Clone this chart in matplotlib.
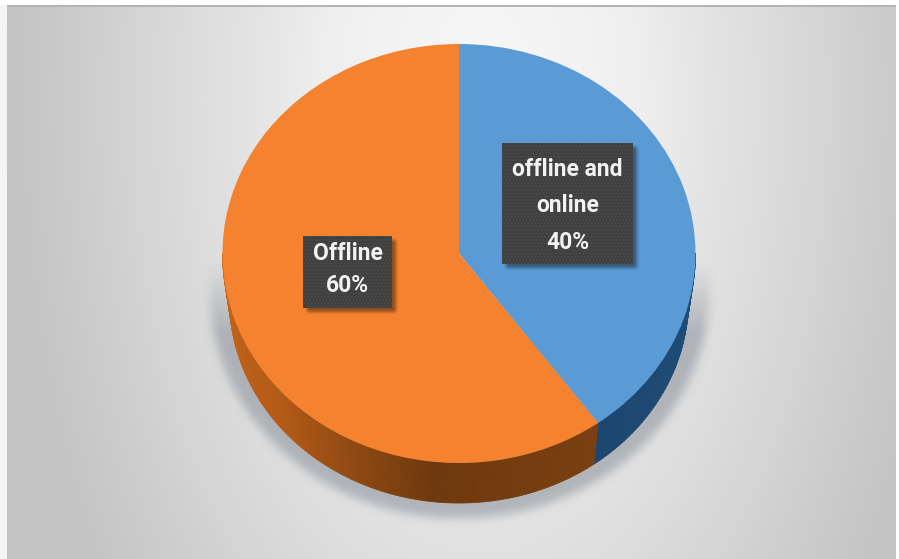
import numpy as np
import matplotlib
matplotlib.use("Agg")
import matplotlib.pyplot as plt
from matplotlib.collections import PolyCollection
from matplotlib.colors import LinearSegmentedColormap
from matplotlib.patches import Rectangle

plt.rcParams['hatch.linewidth'] = 0.5

labels = ["offline and\nonline", "Offline"]
values = [40, 60]
colors = ["#5b9bd5", "#f4822f"]
side_colors = [["#1c4670", "#1f4e79"], ["#7a3f10", "#6e390e", "#b25a16", "#c9661c"]]

W, H = 899, 559
CX, CY, RX, RY = 459, 253.5, 236.5, 209.5
# the lower rim is a slightly smaller ellipse, which gives the disc some perspective
RIM = 0.97
RIM_DROP = (503 - CY - RIM * RY) / RY


def box_blur(img, size):
    # three box passes along each axis is near enough to a gaussian
    kernel = np.ones(size) / size
    for _ in range(3):
        img = np.apply_along_axis(lambda r: np.convolve(r, kernel, mode='same'), 0, img)
        img = np.apply_along_axis(lambda r: np.convolve(r, kernel, mode='same'), 1, img)
    return img


fig = plt.figure(figsize=(W / 100, H / 100), dpi=100)

# background panel with a soft radial gradient
bg = fig.add_axes([0, 0, 1, 1])
yy, xx = np.mgrid[0:H, 0:W]
dist = np.sqrt(((xx - 480) / 440.0) ** 2 + ((yy - 100) / 800.0) ** 2)
grey = LinearSegmentedColormap.from_list(
    "panel", [(0, "#f8f8f8"), (0.32, "#efefef"), (0.5, "#e2e2e2"), (0.64, "#dadada"),
              (0.82, "#cdcdcd"), (1, "#c2c2c2")])
bg.imshow(dist, cmap=grey, vmin=0, vmax=1.1, extent=(0, W, H, 0), aspect='auto')
bg.add_patch(Rectangle((0, 0), 7, H, fc="#f4f4f4", ec='none'))
bg.add_patch(Rectangle((0, 0), W, 5, fc="white", ec='none'))
bg.add_patch(Rectangle((7, 5), W, 1.5, fc="#b4b4b4", ec='none'))
bg.add_patch(Rectangle((896, 0), 3, H, fc="white", ec='none'))

# soft shadow under the lower half of the pie, fading out towards the top
mask = (((xx - CX) / 250.0) ** 2 + ((yy - 290) / 228.0) ** 2 < 1).astype(float)
mask = box_blur(mask, 9)
mask *= np.clip((yy - 262) / 70.0, 0, 1)
shadow = np.zeros((H, W, 4))
shadow[..., 0] = 0.50
shadow[..., 1] = 0.53
shadow[..., 2] = 0.57
shadow[..., 3] = mask * 0.5
bg.imshow(shadow, extent=(0, W, H, 0), aspect='auto', zorder=2)
bg.set_xlim(0, W)
bg.set_ylim(H, 0)
bg.axis('off')

# pie axes: one data unit is the radius, stretched into an ellipse
ax = fig.add_axes([0, 0, 1, 1])
ax.patch.set_alpha(0)

split = 90 - 360 * values[0] / sum(values)
spans = [(split, 0), (-180, split)]
for (a0, a1), shades in zip(spans, side_colors):
    cmap = LinearSegmentedColormap.from_list("side", shades[::-1] if a0 == -180 else shades)
    edges = np.radians(np.arange(a0, a1 + 1, 1.0))
    polys = []
    for t0, t1 in zip(edges[:-1], edges[1:]):
        polys.append([(np.cos(t0), np.sin(t0)), (np.cos(t1), np.sin(t1)),
                      (RIM * np.cos(t1), RIM * np.sin(t1) - RIM_DROP),
                      (RIM * np.cos(t0), RIM * np.sin(t0) - RIM_DROP)])
    shade = cmap(np.linspace(0, 1, len(polys)))
    ax.add_collection(PolyCollection(polys, facecolors=shade, edgecolors=shade, linewidths=0.6))

ax.pie(values, colors=colors, startangle=90, counterclock=False, radius=1,
       wedgeprops={'linewidth': 0})
ax.set_aspect('auto')
ax.set_xlim((0 - CX) / RX, (W - CX) / RX)
ax.set_ylim((CY - H) / RY, CY / RY)
ax.axis('off')

# data label boxes in pixel coordinates: x, y, w, h, text centre y, line spacing
top = fig.add_axes([0, 0, 1, 1])
top.patch.set_alpha(0)

boxes = [(502, 143, 131, 121, 206, 1.75), (303, 236, 89, 72, 269, 1.5)]
for (x, y, w, h, ty, ls), name, val in zip(boxes, labels, values):
    m = np.zeros((H, W))
    m[y + 4:y + h + 4, x + 4:x + w + 4] = 1
    m = box_blur(m, 3)
    sh = np.zeros((H, W, 4))
    sh[..., 3] = m * 0.4
    top.imshow(sh, extent=(0, W, H, 0), aspect='auto', zorder=1)
    top.add_patch(Rectangle((x, y), w, h, fc="#404040", ec='none', zorder=2))
    top.add_patch(Rectangle((x, y), w, h, fc='none', ec="#555150", lw=0, hatch='.....', zorder=3))
    top.text(x + w / 2, ty, f"{name}\n{val}%", color="#f2f2f2", ha='center', va='center',
             family='Roboto', fontweight='bold', fontsize=16.5, linespacing=ls, zorder=4)
top.set_xlim(0, W)
top.set_ylim(H, 0)
top.axis('off')

fig.savefig("out.png", dpi=100)
